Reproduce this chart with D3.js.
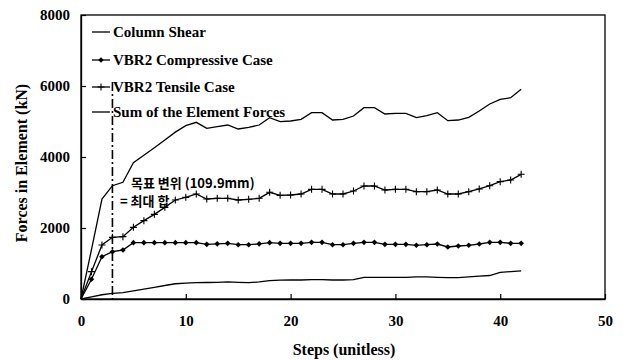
<!DOCTYPE html>
<html><head><meta charset="utf-8">
<script src="https://cdn.jsdelivr.net/npm/d3@7/dist/d3.min.js"></script>
<style>body{margin:0;background:#fff}svg{display:block}</style>
</head><body>
<svg id="c" width="628" height="360"></svg>
<script>
const steps = d3.range(0, 43);
const columnShear = [0,60,120,160,180,230,280,330,380,430,450,460,465,470,480,470,460,480,520,530,535,535,545,545,535,535,545,610,610,610,610,610,624,624,610,601,601,624,643,662,751,770,790];
const vbr2Compressive = [0,555,1192,1333,1380,1587,1587,1587,1587,1587,1587,1587,1540,1554,1568,1530,1530,1554,1587,1568,1568,1568,1596,1596,1530,1530,1568,1596,1596,1540,1540,1540,1512,1530,1549,1465,1493,1512,1549,1596,1596,1568,1568];
const vbr2Tensile = [0,770,1521,1737,1756,2019,2207,2385,2582,2789,2864,2958,2817,2836,2836,2789,2808,2836,3005,2920,2930,2958,3089,3089,2958,2958,3042,3183,3183,3070,3089,3089,3023,3023,3070,2958,2958,3023,3099,3192,3305,3352,3512];
const sumForces = [0,1390,2817,3192,3287,3840,4050,4260,4480,4700,4882,4977,4808,4854,4901,4789,4836,4901,5108,4995,5014,5061,5249,5249,5042,5061,5155,5390,5390,5211,5230,5230,5108,5164,5249,5023,5042,5117,5296,5493,5625,5671,5907];
const xTicks = [0,10,20,30,40,50];
const yTicks = [0,2000,4000,6000,8000];
const legendLabels = ["Column Shear","VBR2 Compressive Case","VBR2 Tensile Case","Sum of the Element Forces"];
const targetStep = 3;
const annotLines = ["목표 변위 (109.9mm)","= 최대 합"];

const svg = d3.select("#c");
const L=81,R=605,T=15,B=299;
const x = d3.scaleLinear().domain([0,50]).range([L,R]);
const y = d3.scaleLinear().domain([0,8000]).range([B,T]);
const serif = "'Liberation Serif','Times New Roman',serif";
const kr = "'Noto Sans CJK KR',sans-serif";

svg.append("rect").attr("x",L).attr("y",T).attr("width",R-L).attr("height",B-T)
  .attr("fill","none").attr("stroke","#000").attr("stroke-width",1.3);

const gx = svg.append("g").attr("transform",`translate(0,${B})`)
  .call(d3.axisBottom(x).tickValues(xTicks).tickFormat(d3.format("d")).tickSizeInner(-5).tickSizeOuter(0).tickPadding(16));
const gy = svg.append("g").attr("transform",`translate(${L},0)`)
  .call(d3.axisLeft(y).tickValues(yTicks).tickFormat(d3.format("d")).tickSizeInner(-5).tickSizeOuter(0).tickPadding(11));
[gx,gy].forEach(g=>{
  g.attr("font-family",null).attr("font-size",null);
  g.select(".domain").attr("stroke","#000").attr("stroke-width",1.3);
  g.selectAll(".tick line").attr("stroke","#000").attr("stroke-width",1.2);
  g.selectAll("text").style("font-family",serif).style("font-weight","bold").style("font-size","15px").attr("fill","#000");
});

svg.append("text").attr("x",344).attr("y",355).attr("text-anchor","middle")
  .style("font-family",serif).style("font-weight","bold").style("font-size","16px").text("Steps (unitless)");
svg.append("text").attr("transform",`translate(27,${(T+B)/2+6}) rotate(-90)`).attr("text-anchor","middle")
  .style("font-family",serif).style("font-weight","bold").style("font-size","16px").text("Forces in Element (kN)");

svg.append("line").attr("x1",x(targetStep)).attr("x2",x(targetStep)).attr("y1",82).attr("y2",B)
  .attr("stroke","#000").attr("stroke-width",1.6).attr("stroke-dasharray","9,3,2,3");

const line = d3.line().x((d,i)=>x(steps[i])).y(d=>y(d));
[columnShear, vbr2Compressive, vbr2Tensile, sumForces].forEach(s=>{
  svg.append("path").attr("d",line(s)).attr("fill","none").attr("stroke","#000").attr("stroke-width",1.3);
});
function diamond(g,cx,cy){ g.append("path").attr("d",`M${cx},${cy-2.8}L${cx+2.8},${cy}L${cx},${cy+2.8}L${cx-2.8},${cy}Z`).attr("fill","#000"); }
function plus(g,cx,cy){ g.append("path").attr("d",`M${cx-3.5},${cy}H${cx+3.5}M${cx},${cy-3.5}V${cy+3.5}`).attr("stroke","#000").attr("stroke-width",1.1); }
const mk = svg.append("g");
vbr2Compressive.forEach((v,i)=>{ if(i>0) diamond(mk,x(steps[i]),y(v)); });
vbr2Tensile.forEach((v,i)=>{ if(i>0) plus(mk,x(steps[i]),y(v)); });

const ly = [32,60,87,112];
legendLabels.forEach((t,i)=>{
  const g = svg.append("g");
  g.append("line").attr("x1",92).attr("x2",110).attr("y1",ly[i]).attr("y2",ly[i]).attr("stroke","#000").attr("stroke-width",1.3);
  if(i===1) diamond(g,101,ly[i]);
  if(i===2) plus(g,101,ly[i]);
  g.append("text").attr("x",113).attr("y",ly[i]+5).style("font-family",serif).style("font-weight","bold").style("font-size","15px").text(t);
});

svg.append("text").attr("x",131).attr("y",188).style("font-family",kr).style("font-weight","bold").style("font-size","13px").text(annotLines[0]);
svg.append("text").attr("x",120).attr("y",206).style("font-family",kr).style("font-weight","bold").style("font-size","13px").text(annotLines[1]);
</script>
</body></html>
